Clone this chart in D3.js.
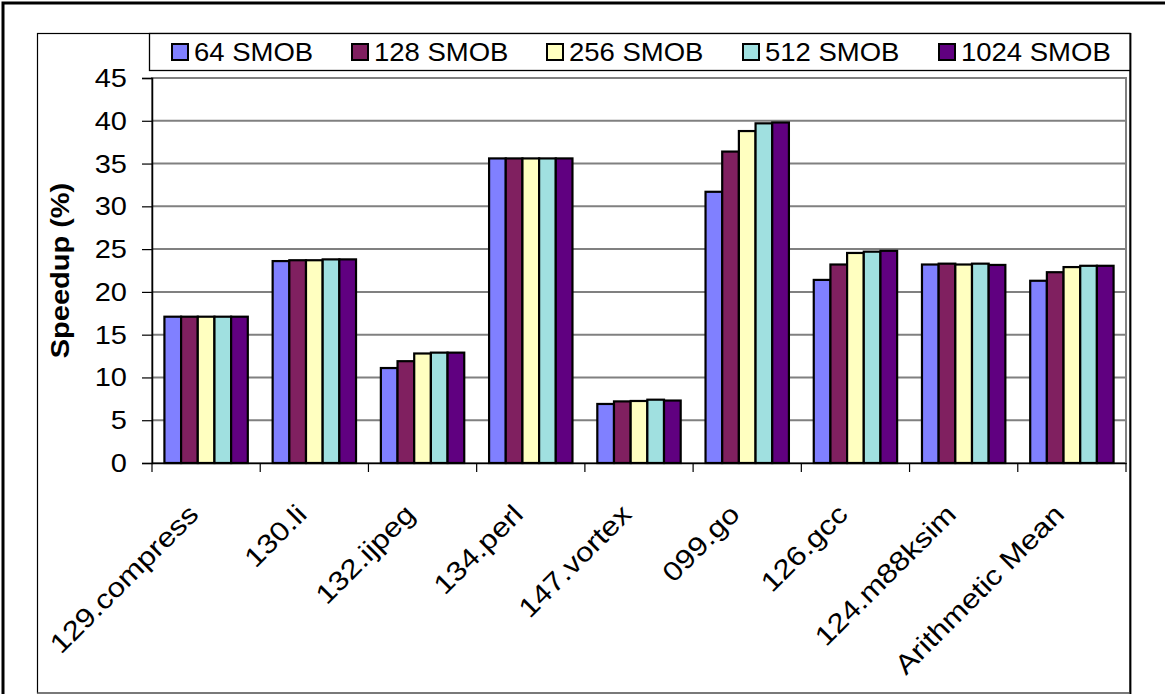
<!DOCTYPE html>
<html>
<head>
<meta charset="utf-8">
<script src="https://cdn.jsdelivr.net/npm/d3@7"></script>
<style>
  html, body { margin: 0; padding: 0; background: #fff; }
  svg { display: block; }
  text { font-family: "Liberation Sans", Arial, sans-serif; fill: #000; }
</style>
</head>
<body>
<svg id="chart" width="1165" height="694"></svg>
<script>
// Benchmarks on the x axis
const categories = ["129.compress", "130.li", "132.ijpeg", "134.perl", "147.vortex",
                    "099.go", "126.gcc", "124.m88ksim", "Arithmetic Mean"];
// Series names (legend order)
const seriesNames = ["64 SMOB", "128 SMOB", "256 SMOB", "512 SMOB", "1024 SMOB"];
// Speedup (%) per benchmark, one array per series
const smob64   = [17.1, 23.6, 11.1, 35.6, 6.9, 31.7, 21.4, 23.2, 21.3];
const smob128  = [17.1, 23.7, 11.9, 35.6, 7.2, 36.4, 23.2, 23.3, 22.3];
const smob256  = [17.1, 23.7, 12.8, 35.6, 7.25, 38.8, 24.55, 23.2, 22.9];
const smob512  = [17.1, 23.8, 12.9, 35.6, 7.4, 39.7, 24.7, 23.3, 23.05];
const smob1024 = [17.1, 23.8, 12.9, 35.6, 7.3, 39.8, 24.8, 23.15, 23.05];
const seriesValues = [smob64, smob128, smob256, smob512, smob1024];
// Y axis ticks
const yTicks = [0, 5, 10, 15, 20, 25, 30, 35, 40, 45];
const yTitle = "Speedup (%)";

const colors = ["#8080FF", "#802060", "#FFFFC0", "#A0E0E0", "#600080"];
const stretch = 1.16;   // text is drawn a little wide along its writing direction
const legendStretch = 1.1;
const fs = 25;
const catFs = 27;

const svg = d3.select("#chart");

// Outer frame
svg.append("rect").attr("x", 3).attr("y", 3).attr("width", 1200).attr("height", 740)
  .attr("fill", "#fff").attr("stroke", "#000").attr("stroke-width", 3);

// Chart area frame
svg.append("rect").attr("x", 37.5).attr("y", 33.5).attr("width", 1092.5).attr("height", 659.5)
  .attr("fill", "#fff").attr("stroke", "#000").attr("stroke-width", 1.2);
svg.append("line").attr("x1", 37.5).attr("x2", 1130).attr("y1", 693).attr("y2", 693)
  .attr("stroke", "#808080").attr("stroke-width", 1.5);
svg.append("line").attr("x1", 1130.5).attr("x2", 1130.5).attr("y1", 33).attr("y2", 694)
  .attr("stroke", "#000").attr("stroke-width", 1.8);

const plot = { left: 152, right: 1126, top: 78, bottom: 463 };

const x = d3.scaleBand().domain(categories).range([plot.left, plot.right]).padding(0);
const xs = d3.scaleBand().domain(seriesNames).range([0, x.bandwidth()])
  .paddingInner(0).paddingOuter(0.745);
const y = d3.scaleLinear().domain([0, 45]).range([plot.bottom, plot.top]);

// Plot area border (gray)
svg.append("rect").attr("x", plot.left).attr("y", plot.top)
  .attr("width", plot.right - plot.left).attr("height", plot.bottom - plot.top)
  .attr("fill", "#fff").attr("stroke", "#808080").attr("stroke-width", 2);

// Horizontal gridlines
svg.append("g").selectAll("line").data(yTicks.filter(d => d > 0)).join("line")
  .attr("x1", plot.left).attr("x2", plot.right)
  .attr("y1", d => y(d)).attr("y2", d => y(d))
  .attr("stroke", "#808080").attr("stroke-width", 2);

// Bars
const groups = svg.append("g").selectAll("g").data(categories).join("g")
  .attr("transform", d => `translate(${x(d)},0)`);
groups.selectAll("rect")
  .data((c, ci) => seriesNames.map((s, si) => ({ s, si, v: seriesValues[si][ci] })))
  .join("rect")
  .attr("x", d => xs(d.s))
  .attr("width", xs.bandwidth())
  .attr("y", d => y(d.v))
  .attr("height", d => y(0) - y(d.v))
  .attr("fill", d => colors[d.si])
  .attr("stroke", "#000").attr("stroke-width", 2.2);

// Y axis
const yAxis = d3.axisLeft(y).tickValues(yTicks).tickSize(10).tickFormat("");
const yg = svg.append("g").attr("transform", `translate(${plot.left},0)`).call(yAxis);
yg.select(".domain").attr("stroke", "#000").attr("stroke-width", 1.5);
yg.selectAll(".tick line").attr("stroke", "#000").attr("stroke-width", 1.2);

svg.append("g").selectAll("text").data(yTicks).join("text")
  .attr("transform", d => `translate(127,${y(d)}) scale(${stretch},1)`)
  .attr("dy", "0.36em")
  .attr("text-anchor", "end")
  .style("font-size", fs + "px")
  .text(d => d);

// X axis
const xAxis = d3.axisBottom(x).tickSize(0).tickFormat("");
const xg = svg.append("g").attr("transform", `translate(0,${plot.bottom})`).call(xAxis);
xg.select(".domain").attr("stroke", "#000").attr("stroke-width", 1.5);
// Tick marks between categories
const bounds = d3.range(categories.length + 1).map(i => plot.left + i * x.step());
svg.append("g").selectAll("line").data(bounds).join("line")
  .attr("x1", d => d).attr("x2", d => d)
  .attr("y1", plot.bottom).attr("y2", plot.bottom + 9)
  .attr("stroke", "#000").attr("stroke-width", 1.2);

// Category labels, rotated
svg.append("g").selectAll("text").data(categories).join("text")
  .attr("transform", d => `translate(${x(d) + x.bandwidth() / 2 - 6},${516}) rotate(-45) scale(${stretch},1)`)
  .attr("text-anchor", "end")
  .style("font-size", catFs + "px")
  .text(d => d);

// Y axis title
svg.append("text")
  .attr("transform", `translate(69,${(plot.top + plot.bottom) / 2}) rotate(-90) scale(${stretch},1)`)
  .attr("text-anchor", "middle")
  .style("font-size", fs + "px")
  .style("font-weight", "bold")
  .text(yTitle);

// Legend
const legend = svg.append("g");
legend.append("rect").attr("x", 149.5).attr("y", 33.5).attr("width", 980.5).attr("height", 37)
  .attr("fill", "#fff").attr("stroke", "#000").attr("stroke-width", 1.3);
const legendX = [171, 351, 546, 742, 938];
const items = legend.selectAll("g").data(seriesNames).join("g")
  .attr("transform", (d, i) => `translate(${legendX[i]},0)`);
items.append("rect").attr("x", 1).attr("y", 44).attr("width", 16).attr("height", 16)
  .attr("fill", (d, i) => colors[i]).attr("stroke", "#000").attr("stroke-width", 2);
items.append("text")
  .attr("transform", `translate(23,61) scale(${legendStretch},1)`)
  .style("font-size", fs + "px")
  .text(d => d);
</script>
</body>
</html>
